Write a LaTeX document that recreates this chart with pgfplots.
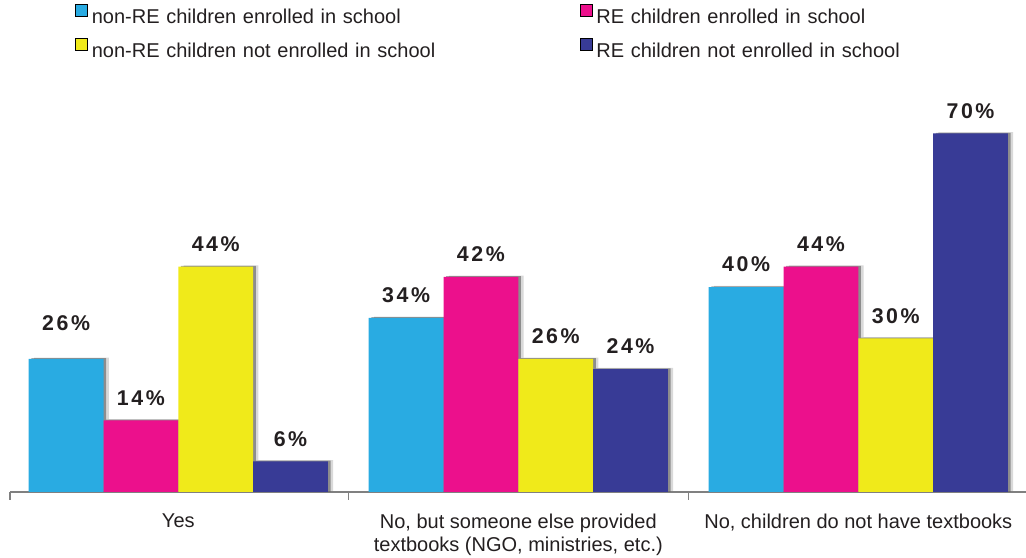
\documentclass[border=0pt]{standalone}
\usepackage{fontspec}
\setmainfont{Liberation Sans}
\newfontfamily\lblfont[LetterSpace=12]{Liberation Sans}
\usepackage{pgfplots}
\pgfplotsset{compat=1.18}
\usetikzlibrary{shadows}
\definecolor{cCyan}{RGB}{41,171,226}
\definecolor{cMag}{RGB}{236,16,140}
\definecolor{cYel}{RGB}{240,234,26}
\definecolor{cNavy}{RGB}{56,59,150}
\definecolor{txt}{RGB}{35,31,32}
\pgfplotstableread{
x y off
0 26 21
1 34 11
2 40 11
}\dcyan
\pgfplotstableread{
x y off
0 14 11
1 42 11
2 44 11
}\dmag
\pgfplotstableread{
x y off
0 44 11
1 26 11
2 30 11
}\dyel
\pgfplotstableread{
x y off
0 6 11
1 24 11
2 70 11
}\dnavy
\pgfplotsset{
  legsq/.style={legend image code/.code={\fill[##1] (0pt,0pt) rectangle (9pt,9pt);}},
  barsty/.style={draw=none, forget plot,
    drop shadow={shadow xshift=4pt, shadow yshift=0.8pt, fill=black, opacity=0.15},
    drop shadow={shadow xshift=2pt, shadow yshift=0.4pt, fill=black, opacity=0.35}},
}
\begin{document}
\begin{tikzpicture}
\begin{axis}[
  width=765pt, height=294pt, scale only axis,
  xmin=-0.495, xmax=2.505, ymin=0, ymax=76.5,
  ybar=0pt, bar width=0.22,
  axis x line*=bottom, axis y line=none,
  xtick={0,1,2},
  xticklabels={Yes, {No, but someone else provided\\textbooks (NGO, ministries, etc.)}, {No, children do not have textbooks}},
  xticklabel style={align=center, inner sep=0pt, yshift=-16pt, text=txt,
    font=\fontsize{15}{17.25}\selectfont},
  major tick length=0pt,
  minor xtick={-0.495,0.5,1.5,2.5}, minor tick length=6pt, tick align=outside,
  every minor tick/.style={gray, line width=0.8pt},
  x axis line style={gray, line width=1pt},
  visualization depends on={\thisrow{off} \as \myoff},
  nodes near coords={\lblfont\bfseries\pgfmathprintnumber[assume math mode=true]{\pgfplotspointmeta}\%},
  nodes near coords style={anchor=south, inner sep=0pt, yshift=\myoff pt, text=txt,
    font=\fontsize{16}{19}\selectfont},
  legend columns=2,
  legend cell align=left,
  legend style={at={(0,1)}, anchor=north west, xshift=48.75pt, yshift=72.5pt,
    draw=none, fill=none, inner sep=0pt, row sep=10.75pt, text=txt,
    font=\fontsize{15}{18}\selectfont,
    nodes={inner sep=0pt, text width=366pt, text height=11pt, text depth=0pt},
    /tikz/every odd column/.append style={column sep=3pt}},
]
\addplot[barsty, fill=cCyan, bar shift=-0.33] table[x=x,y=y] {\dcyan};
\addplot[barsty, fill=cMag, bar shift=-0.11] table[x=x,y=y] {\dmag};
\addplot[barsty, fill=cYel, bar shift=0.11] table[x=x,y=y] {\dyel};
\addplot[barsty, fill=cNavy, bar shift=0.33] table[x=x,y=y] {\dnavy};
\addlegendimage{legsq, fill=cCyan}
\addlegendentry{non-RE children enrolled in school}
\addlegendimage{legsq, fill=cMag}
\addlegendentry{RE children enrolled in school}
\addlegendimage{legsq, fill=cYel}
\addlegendentry{non-RE children not enrolled in school}
\addlegendimage{legsq, fill=cNavy}
\addlegendentry{RE children not enrolled in school}
\coordinate (ll) at (rel axis cs:0,0);
\coordinate (ur) at (rel axis cs:1,1);
\end{axis}
\pgfresetboundingbox
\path[use as bounding box] ([xshift=-7.5pt,yshift=-49.5pt]ll) rectangle ([xshift=-3pt,yshift=75pt]ur);
\end{tikzpicture}
\end{document}
